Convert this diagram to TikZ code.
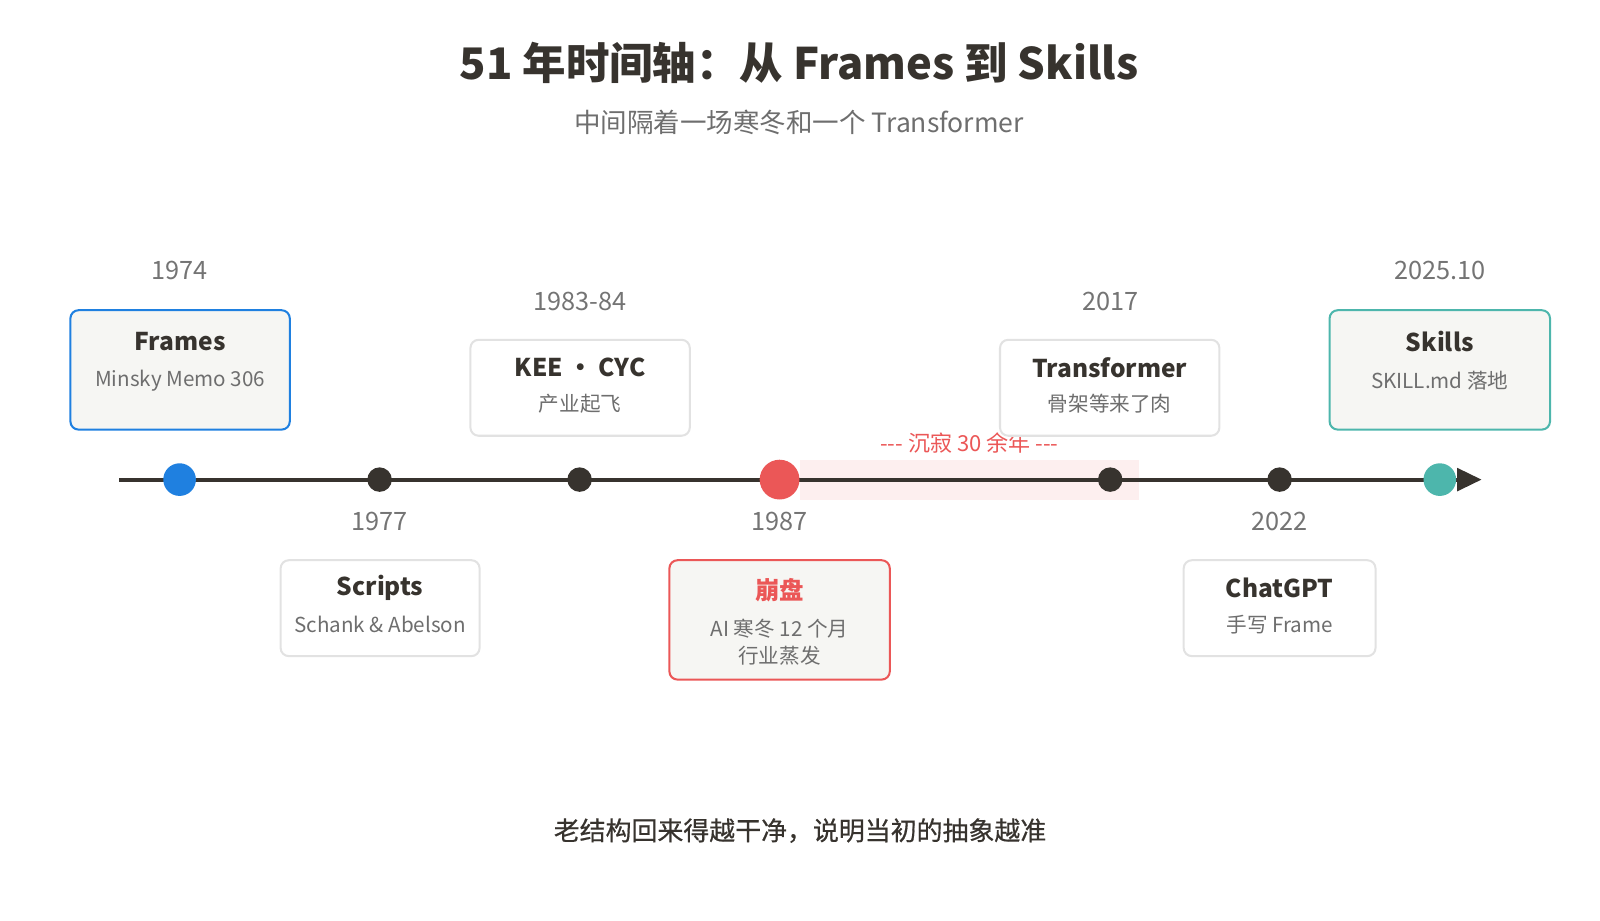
\documentclass[tikz,border=0pt]{standalone}
\usepackage{fontspec}
\setmainfont{Noto Sans CJK SC}
\newfontfamily\medfont[FakeBold=0.6]{Noto Sans CJK SC}
\usetikzlibrary{arrows.meta,positioning}
\definecolor{ink}{HTML}{37332E}
\definecolor{subgray}{HTML}{6E6E6E}
\definecolor{yeargray}{HTML}{747474}
\definecolor{boxgray}{HTML}{E2E2E2}
\definecolor{boxfill}{HTML}{F6F6F3}
\definecolor{frameblue}{HTML}{1F80E0}
\definecolor{crashred}{HTML}{EB5757}
\definecolor{skillteal}{HTML}{4DB6AC}
\definecolor{bandpink}{HTML}{FDEFEF}

\begin{document}
\begin{tikzpicture}[x=0.5pt, y=-0.5pt]
      \tikzset{
	  evbox/.style={rectangle,rounded corners=4pt,draw=boxgray,line width=1pt,fill=white,minimum width=107.5pt,minimum height=47pt,inner sep=0pt},
	  keybox/.style={evbox,fill=boxfill,minimum height=58.5pt},
	  evtitle/.style={font=\bfseries\fontsize{12}{14}\selectfont,text=ink,inner sep=0pt},
	  evsub/.style={font=\fontsize{10.1}{13.5}\selectfont,text=subgray,inner sep=0pt,align=center},
	  yearlbl/.style={font=\fontsize{12.4}{15}\selectfont,text=yeargray,inner sep=0pt},
	  dot/.style={circle,fill=ink,minimum size=12pt,inner sep=0pt}
      }
      \useasboundingbox (0,0) rectangle (1568,902);

      \node at (783,62) [font=\bfseries\fontsize{21.3}{25}\selectfont,text=ink] (title) {51 年时间轴：从 Frames 到 Skills};
      \node at (783,120) [font=\fontsize{13}{16}\selectfont,text=subgray] (subtitle) {中间隔着一场寒冬和一个 Transformer};

      \fill[bandpink] (784,451) rectangle (1116,490);
      \node at (950,434) [font=\fontsize{10.8}{13}\selectfont,text=crashred,inner sep=0pt] (lull) {{-}{-}{-} 沉寂 30 余年 {-}{-}{-}};

      \coordinate (tlstart) at (117,470);
      \coordinate (tlend) at (1452,470);
      \draw[ink,line width=2pt,-{Triangle[length=12pt,width=11pt]}] (tlstart) -- (tlend);

      \node at (176,470) [dot,fill=frameblue,minimum size=16pt] (d1974) {};
      \node at (372,470) [dot] (d1977) {};
      \node at (568,470) [dot] (d1983) {};
      \node at (764,470) [dot,fill=crashred,minimum size=19.5pt] (d1987) {};
      \node at (1088,470) [dot] (d2017) {};
      \node at (1254,470) [dot] (d2022) {};
      \node at (1411,470) [dot,fill=skillteal,minimum size=16pt] (d2025) {};

      \node at (176,265) [yearlbl] (y1974) {1974};
      \node at (568,295) [yearlbl] (y1983) {1983-84};
      \node at (1088,295) [yearlbl] (y2017) {2017};
      \node at (1411,265) [yearlbl] (y2025) {2025.10};
      \node at (372,511) [yearlbl] (y1977) {1977};
      \node at (764,511) [yearlbl] (y1987) {1987};
      \node at (1254,511) [yearlbl] (y2022) {2022};

      \node at (176.5,362.5) [keybox,draw=frameblue] (frm) {};
      \node at (176.5,335) [evtitle] (frmT) {Frames};
      \node at (176.5,373) [evsub] (frmS) {Minsky Memo 306};

      \node at (568.5,380) [evbox] (kee) {};
      \node at (568.5,360) [evtitle] (keeT) {KEE ・ CYC};
      \node at (568.5,396) [evsub] (keeS) {产业起飞};

      \node at (1087.5,380) [evbox] (tf) {};
      \node at (1087.5,360) [evtitle] (tfT) {Transformer};
      \node at (1087.5,396) [evsub] (tfS) {骨架等来了肉};

      \node at (1411,362.5) [keybox,draw=skillteal,minimum width=108pt] (skl) {};
      \node at (1411,335) [evtitle] (sklT) {Skills};
      \node at (1411,373) [evsub] (sklS) {SKILL.md 落地};

      \node at (372.5,596) [evbox,minimum width=97.5pt] (scr) {};
      \node at (372.5,576) [evtitle] (scrT) {Scripts};
      \node at (372.5,612) [evsub] (scrS) {Schank \& Abelson};

      \node at (764,607.5) [keybox,draw=crashred,minimum width=108pt] (crash) {};
      \node at (764,578) [evtitle,text=crashred] (crashT) {崩盘};
      \node at (764,629.5) [evsub] (crashS) {AI 寒冬 12 个月\\行业蒸发};

      \node at (1254,596) [evbox,minimum width=94pt] (gpt) {};
      \node at (1254,576) [evtitle] (gptT) {ChatGPT};
      \node at (1254,612) [evsub] (gptS) {手写 Frame};

      \node at (784,814) [font=\medfont\fontsize{12.7}{15}\selectfont,text=ink] (moral) {老结构回来得越干净，说明当初的抽象越准};
    \end{tikzpicture}
\end{document}
